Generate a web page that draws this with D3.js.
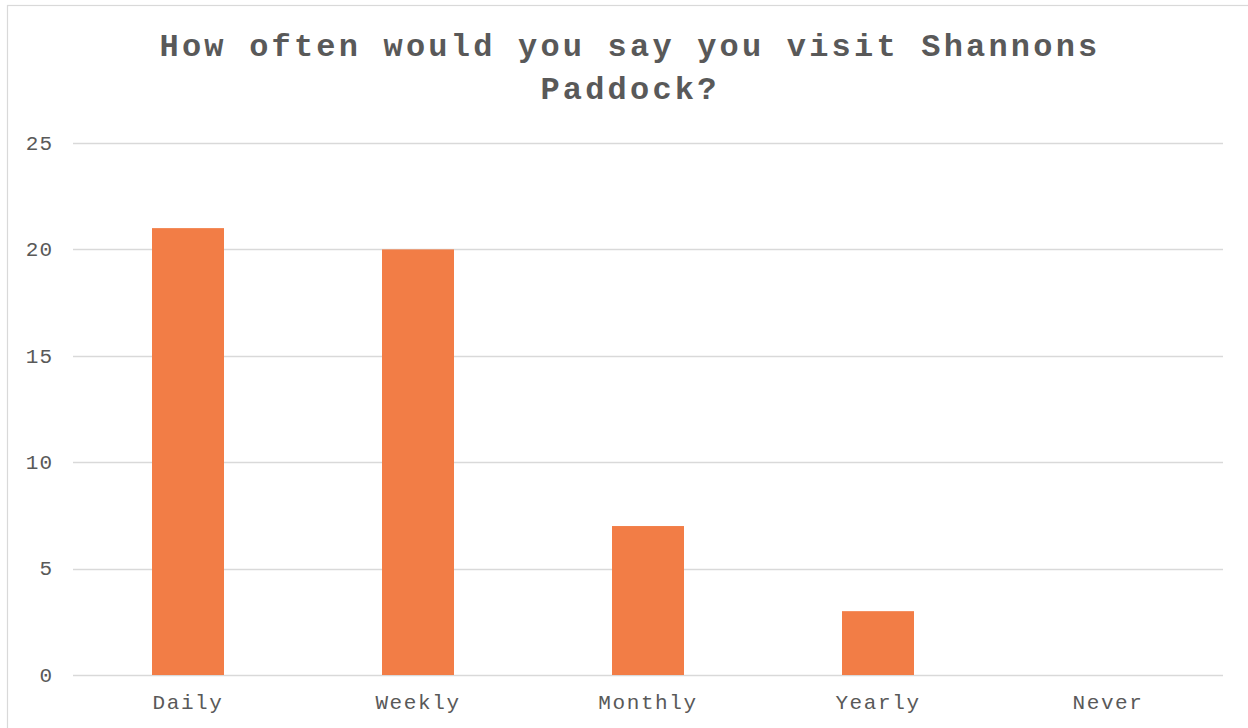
<!DOCTYPE html>
<html>
<head>
<meta charset="utf-8">
<script src="https://cdn.jsdelivr.net/npm/d3@7"></script>
<style>
  html, body { margin: 0; padding: 0; background: #fff; }
  svg { display: block; }
</style>
</head>
<body>
<svg id="chart" width="1248" height="728"></svg>
<script>
const categories = ["Daily", "Weekly", "Monthly", "Yearly", "Never"];
const values = [21, 20, 7, 3, 0];
const yTicks = [0, 5, 10, 15, 20, 25];
const titleLines = ["How often would you say you visit Shannons", "Paddock?"];

const svg = d3.select("#chart");
const W = 1248, H = 728;
const margin = { left: 73, right: 25, top: 143, bottom: 53 };
const textColor = "#595959";
const font = "'Courier New', 'Liberation Mono', monospace";

svg.append("rect")
  .attr("x", 7.5).attr("y", 5.5)
  .attr("width", W + 20).attr("height", H + 20)
  .attr("fill", "#fff").attr("stroke", "#d9d9d9").attr("stroke-width", 1.2);

const x = d3.scaleBand()
  .domain(categories)
  .range([margin.left, W - margin.right])
  .paddingInner(0.687)
  .paddingOuter(0.687 / 2);

const y = d3.scaleLinear()
  .domain([0, 25])
  .range([H - margin.bottom, margin.top]);

// gridlines
svg.append("g")
  .selectAll("line")
  .data(yTicks)
  .join("line")
  .attr("x1", margin.left).attr("x2", W - margin.right)
  .attr("y1", d => Math.round(y(d)) + 0.5).attr("y2", d => Math.round(y(d)) + 0.5)
  .attr("stroke", "#d9d9d9").attr("stroke-width", 1.5);

// y axis labels
const yAxis = d3.axisLeft(y).tickValues(yTicks).tickSize(0).tickPadding(20);
const gy = svg.append("g").attr("transform", `translate(${margin.left},0)`).call(yAxis);
gy.select(".domain").remove();
gy.selectAll("text")
  .attr("fill", textColor)
  .style("font-family", font)
  .style("font-size", "21px")
  .style("letter-spacing", "1px")
  .attr("dy", "0.3em");

// bars
svg.append("g")
  .selectAll("rect")
  .data(values)
  .join("rect")
  .attr("x", (d, i) => x(categories[i]))
  .attr("width", x.bandwidth())
  .attr("y", d => y(d))
  .attr("height", d => y(0) - y(d))
  .attr("fill", "#f27d46");

// x axis labels
const xAxis = d3.axisBottom(x).tickSize(0).tickPadding(19);
const gx = svg.append("g").attr("transform", `translate(0,${y(0)})`).call(xAxis);
gx.select(".domain").remove();
gx.selectAll("text")
  .attr("fill", textColor)
  .style("font-family", font)
  .style("font-size", "21px")
  .style("letter-spacing", "1.6px");

// title
svg.append("g")
  .selectAll("text")
  .data(titleLines)
  .join("text")
  .attr("x", 630)
  .attr("y", (d, i) => 56 + i * 43)
  .attr("text-anchor", "middle")
  .attr("fill", textColor)
  .style("font-family", font)
  .style("font-weight", "bold")
  .style("font-size", "32px")
  .style("letter-spacing", "3.2px")
  .text(d => d);
</script>
</body>
</html>
